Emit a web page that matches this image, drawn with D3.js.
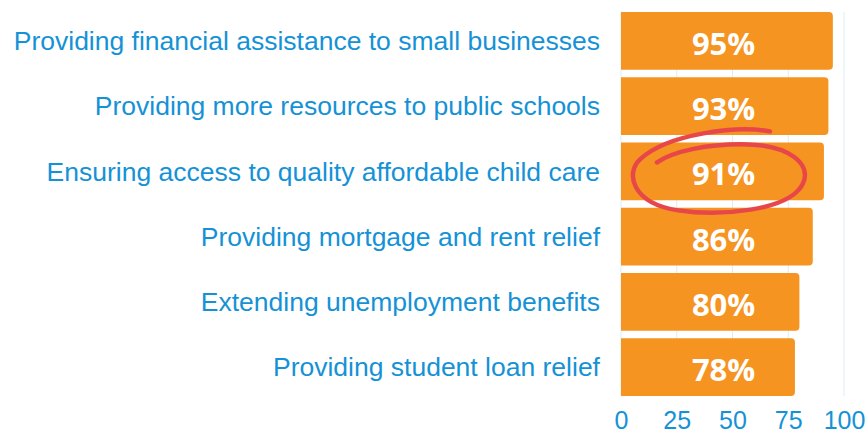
<!DOCTYPE html>
<meta charset="utf-8">
<script src="https://d3js.org/d3.v7.min.js"></script>
<style>
  body { margin: 0; background: #fff; }
</style>
<div id="my_dataviz"></div>
<script>

// data
var categories = [
  "Providing financial assistance to small businesses",
  "Providing more resources to public schools",
  "Ensuring access to quality affordable child care",
  "Providing mortgage and rent relief",
  "Extending unemployment benefits",
  "Providing student loan relief"
];
var values = [95, 93, 91, 86, 80, 78];
var tickValues = [0, 25, 50, 75, 100];
var highlighted = "Ensuring access to quality affordable child care";

var width = 868, height = 436;

var svg = d3.select("#my_dataviz")
  .append("svg")
    .attr("width", width)
    .attr("height", height);

var x = d3.scaleLinear().domain([0, 100]).range([621, 844]);
var y = d3.scaleBand().domain(categories).range([12, 396]).paddingInner(0.113).paddingOuter(0);

var blue = "#1592d6", orange = "#f59421";

// gridlines
svg.append("g")
  .selectAll("line")
  .data(tickValues)
  .enter().append("line")
    .attr("x1", function(d) { return x(d); })
    .attr("x2", function(d) { return x(d); })
    .attr("y1", 12)
    .attr("y2", 396)
    .attr("stroke", "#dcedf7")
    .attr("stroke-width", 1);

// bars: square left side, rounded right corners
var r = 4;
function barPath(d, i) {
  var x0 = x(0), x1 = x(values[i]), y0 = y(d), h = y.bandwidth();
  return "M" + x0 + "," + y0 +
    "H" + (x1 - r) +
    "Q" + x1 + "," + y0 + " " + x1 + "," + (y0 + r) +
    "V" + (y0 + h - r) +
    "Q" + x1 + "," + (y0 + h) + " " + (x1 - r) + "," + (y0 + h) +
    "H" + x0 + "Z";
}
svg.append("g")
  .selectAll("path")
  .data(categories)
  .enter().append("path")
    .attr("d", barPath)
    .attr("fill", orange);

// value labels
svg.append("g")
  .selectAll("text")
  .data(categories)
  .enter().append("text")
    .attr("x", x(46))
    .attr("y", function(d) { return y(d) + y.bandwidth() / 2 + 14; })
    .attr("text-anchor", "middle")
    .attr("font-family", "Open Sans")
    .attr("font-weight", "bold")
    .attr("font-size", 31)
    .attr("fill", "#fff")
    .text(function(d, i) { return values[i] + "%"; });

// category labels
svg.append("g")
  .selectAll("text")
  .data(categories)
  .enter().append("text")
    .attr("x", 600)
    .attr("y", function(d) { return y(d) + y.bandwidth() / 2; })
    .attr("dy", "0.35em")
    .attr("text-anchor", "end")
    .attr("font-family", "Liberation Sans, Arial, sans-serif")
    .attr("font-size", 26.5)
    .attr("fill", blue)
    .text(function(d) { return d; });

// x axis
var xAxis = svg.append("g")
  .attr("transform", "translate(0,408)")
  .call(d3.axisBottom(x).tickValues(tickValues).tickSize(0).tickPadding(0));
xAxis.select(".domain").remove();
xAxis.selectAll("text")
  .attr("font-family", "Liberation Sans, Arial, sans-serif")
  .attr("font-size", 25)
  .attr("fill", blue)
  .attr("y", 21)
  .attr("dy", "0");

// hand-drawn circle around the highlighted value
var cx = x(43.5), cy = y(highlighted) + y.bandwidth() / 2;
var loop = [
  "M", 52, -40,
  "C", 20, -46, -50, -38, -78, -12,
  "C", -93, 2, -86, 32, -40, 39,
  "C", 0, 45, 72, 40, 85, 12,
  "C", 94, -8, 70, -26, 30, -27,
  "C", -10, -28, -45, -20, -61, -9
];
var dStr = "", k = 0;
while (k < loop.length) {
  if (typeof loop[k] === "string") { dStr += loop[k]; k++; continue; }
  dStr += (cx + loop[k]) + "," + (cy + loop[k + 1]) + " ";
  k += 2;
}
svg.append("path")
  .attr("d", dStr)
  .attr("fill", "none")
  .attr("stroke", "#e8474a")
  .attr("stroke-width", 4.5)
  .attr("stroke-linecap", "round");

</script>
